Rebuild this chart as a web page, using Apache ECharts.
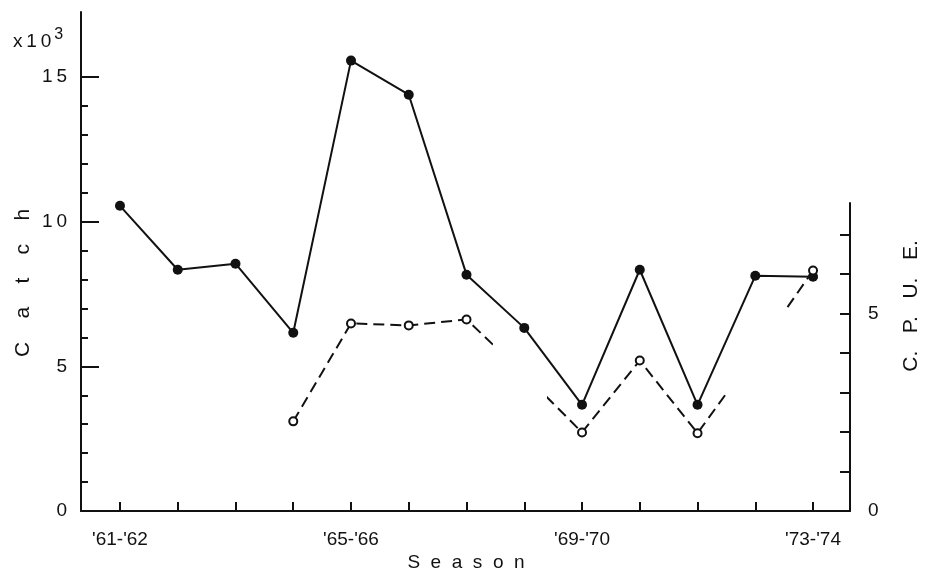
<!DOCTYPE html>
<html>
<head>
<meta charset="utf-8">
<script src="https://cdn.jsdelivr.net/npm/echarts@6/dist/echarts.min.js"></script>
<style>
html,body{margin:0;padding:0;background:#fff;}
#chart{width:926px;height:578px;}
</style>
</head>
<body>
<div id="chart"></div>
<script>
// ---- data ----
var seasons = ["'61-'62","'62-'63","'63-'64","'64-'65","'65-'66","'66-'67","'67-'68","'68-'69","'69-'70","'70-'71","'71-'72","'72-'73","'73-'74"];
var seasonLabels = ["'61-'62","'65-'66","'69-'70","'73-'74"];
var catchValues = [10.55, 8.34, 8.55, 6.16, 15.57, 14.39, 8.17, 6.33, 3.67, 8.34, 3.67, 8.13, 8.10]; // x10^3
var cpueValues = [null, null, null, 2.27, 4.75, 4.70, 4.85, 3.46, 1.99, 3.81, 1.97, 3.99, 6.09];
var cpueNoMarker = ["'68-'69", "'72-'73"]; // drawn only as broken dashed segments
var catchTickLabels = [0, 5, 10, 15];
var cpueTickLabels = [0, 5];

var FONT = 'Liberation Sans';
var INK = '#111';

var catchData = catchValues.map(function (v, i) { return [i, v]; });
var cpueData = cpueValues.map(function (v, i) {
  if (v === null) return [i, null];
  var item = { value: [i, v] };
  if (cpueNoMarker.indexOf(seasons[i]) >= 0) item.symbol = 'none';
  return item;
});
var labelIdx = seasonLabels.map(function (s) { return seasons.indexOf(s); });
var allIdx = seasons.map(function (s, i) { return i; });
var catchMinor = [];
for (var k = 1; k < 15; k++) { if (catchTickLabels.indexOf(k) < 0) catchMinor.push(k); }
var cpueTicks = [1, 2, 3, 4, 5, 6, 7];

var xMin = -0.675, xMax = 12.64;

var chart = echarts.init(document.getElementById('chart'), null, { renderer: 'canvas' });
chart.setOption({
  animation: false,
  backgroundColor: '#fff',
  title: {
    text: 'x\u20091\u20090{s|3}',
    left: 8, top: 22,
    textStyle: {
      fontFamily: FONT, fontSize: 19, fontWeight: 'normal', color: INK,
      rich: { s: { fontFamily: FONT, fontSize: 16, color: INK, verticalAlign: 'bottom', padding: [0, 0, 14, 3] } }
    }
  },
  grid: [
    { left: 81, right: 76, top: 12, bottom: 67 },
    { left: 81, right: 76, top: 203, bottom: 67 }
  ],
  xAxis: [
    {
      gridIndex: 0, type: 'value', min: xMin, max: xMax,
      axisLine: { show: true, onZero: false, lineStyle: { color: INK, width: 2 } },
      axisTick: { show: true, inside: true, length: 9, customValues: allIdx, lineStyle: { color: INK, width: 2 } },
      axisLabel: {
        customValues: labelIdx, margin: 19,
        fontFamily: FONT, fontSize: 19, color: INK,
        formatter: function (v) { return seasons[Math.round(v)]; }
      },
      splitLine: { show: false }
    },
    { gridIndex: 1, type: 'value', min: xMin, max: xMax, show: false }
  ],
  yAxis: [
    {
      gridIndex: 0, type: 'value', position: 'left', min: 0, max: 17.25,
      axisLine: { show: true, onZero: false, lineStyle: { color: INK, width: 2 } },
      axisTick: { show: true, inside: true, length: 18, customValues: catchTickLabels, lineStyle: { color: INK, width: 2 } },
      axisLabel: {
        customValues: catchTickLabels, margin: 14,
        fontFamily: FONT, fontSize: 19, color: INK,
        formatter: function (v) { return String(v).split('').join('\u2009'); }
      },
      splitLine: { show: false }
    },
    {
      gridIndex: 0, type: 'value', position: 'left', min: 0, max: 17.25,
      axisLine: { show: false, onZero: false },
      axisTick: { show: true, inside: true, length: 7, customValues: catchMinor, lineStyle: { color: INK, width: 2 } },
      axisLabel: { show: false },
      splitLine: { show: false }
    },
    {
      gridIndex: 1, type: 'value', position: 'right', min: 0, max: 7.8,
      axisLine: { show: true, onZero: false, lineStyle: { color: INK, width: 2 } },
      axisTick: { show: true, inside: true, length: 10, customValues: cpueTicks, lineStyle: { color: INK, width: 2 } },
      axisLabel: {
        customValues: cpueTickLabels, margin: 18,
        fontFamily: FONT, fontSize: 19, color: INK
      },
      splitLine: { show: false }
    }
  ],
  visualMap: {
    type: 'piecewise', show: false, seriesIndex: 1, dimension: 0,
    pieces: [
      { min: -1, max: 6.46, color: INK },
      { min: 7.39, max: 10.51, color: INK },
      { min: 11.53, max: 13, color: INK }
    ],
    outOfRange: { color: 'rgba(0,0,0,0)' }
  },
  series: [
    {
      name: 'Catch', type: 'line', xAxisIndex: 0, yAxisIndex: 0,
      data: catchData,
      symbol: 'circle', symbolSize: 10,
      lineStyle: { color: INK, width: 2 },
      itemStyle: { color: INK },
      z: 3
    },
    {
      name: 'C.P.U.E.', type: 'line', xAxisIndex: 1, yAxisIndex: 2,
      data: cpueData, connectNulls: false,
      symbol: 'emptyCircle', symbolSize: 8,
      lineStyle: { width: 2, type: [11, 6] },
      itemStyle: { borderWidth: 1.8 },
      z: 4
    }
  ],
  graphic: [
    {
      type: 'text', x: 23, y: 283, rotation: Math.PI / 2,
      style: { text: 'C    a    t    c    h', fontFamily: FONT, fontSize: 21, fill: INK, align: 'center', verticalAlign: 'middle' }
    },
    {
      type: 'text', x: 466, y: 563,
      style: { text: 'S  e  a  s  o  n', fontFamily: FONT, fontSize: 19, fill: INK, align: 'center', verticalAlign: 'middle' }
    },
    {
      type: 'text', x: 911, y: 306, rotation: Math.PI / 2,
      style: { text: 'C.   P.   U.   E.', fontFamily: FONT, fontSize: 21, fill: INK, align: 'center', verticalAlign: 'middle' }
    }
  ]
});
</script>
</body>
</html>
